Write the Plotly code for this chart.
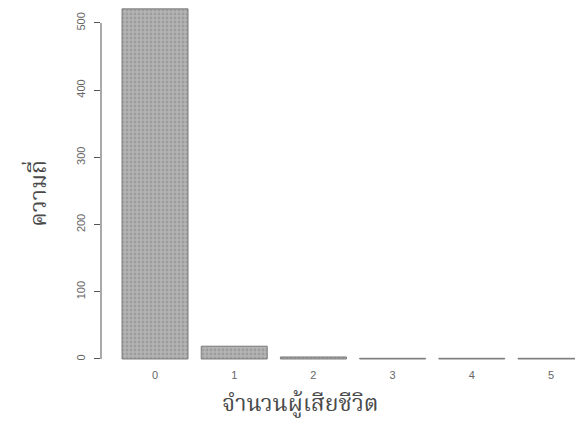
import plotly.graph_objects as go

categories = ["0", "1", "2", "3", "4", "5"]
frequency = [521, 19, 3, 1, 1, 1]
y_ticks = [0, 100, 200, 300, 400, 500]

x_title = "จำนวนผู้เสียชีวิต"
y_title = "ความถี่"

thai_font = "Noto Serif Thai, Noto Sans Thai, Loma, Garuda, Tlwg Typo, serif"

fig = go.Figure()
fig.add_trace(go.Bar(
    x=list(range(len(categories))),
    y=frequency,
    marker=dict(
        color="#aaaaaa",
        line=dict(color="#7a7a7a", width=1),
        pattern=dict(shape=".", fgcolor="#858585", bgcolor="#b4b4b4", size=4, solidity=0.4),
    ),
    showlegend=False,
))

fig.update_layout(
    width=575, height=430,
    margin=dict(l=101, r=0, t=0, b=68),
    paper_bgcolor="white", plot_bgcolor="white",
    bargap=0.167,
    xaxis=dict(
        range=[-0.682, 5.303],
        tickmode="array",
        tickvals=list(range(len(categories))),
        ticktext=categories,
        showgrid=False, zeroline=False, showline=False,
        ticks="", ticklabelstandoff=5,
        tickfont=dict(family="Liberation Sans, Arial, sans-serif", size=11, color="#666666"),
    ),
    yaxis=dict(
        range=[-4.5, 534.2],
        tickmode="array",
        tickvals=y_ticks,
        ticktext=[str(v) for v in y_ticks],
        tickangle=-90,
        showgrid=False, zeroline=False, showline=False,
        ticks="outside", ticklen=6, tickcolor="#555555", tickwidth=1,
        ticklabelstandoff=5,
        tickfont=dict(family="Liberation Sans, Arial, sans-serif", size=11, color="#666666"),
    ),
    shapes=[dict(
        type="line", xref="paper", yref="y",
        x0=0, x1=0, y0=min(y_ticks), y1=max(y_ticks),
        line=dict(color="#555555", width=1),
    )],
    annotations=[
        dict(text=x_title, xref="paper", yref="paper", x=0.42, y=-0.119,
             xanchor="center", yanchor="middle", showarrow=False,
             font=dict(family=thai_font, size=23, color="#4a4a4a")),
        dict(text=y_title, xref="paper", yref="paper", x=-0.129, y=0.467,
             xanchor="center", yanchor="middle", showarrow=False, textangle=-90,
             font=dict(family=thai_font, size=23, color="#4a4a4a")),
    ],
)

fig.write_html("out.html", config={"displayModeBar": False},
               post_script="document.body.style.margin='0';")
